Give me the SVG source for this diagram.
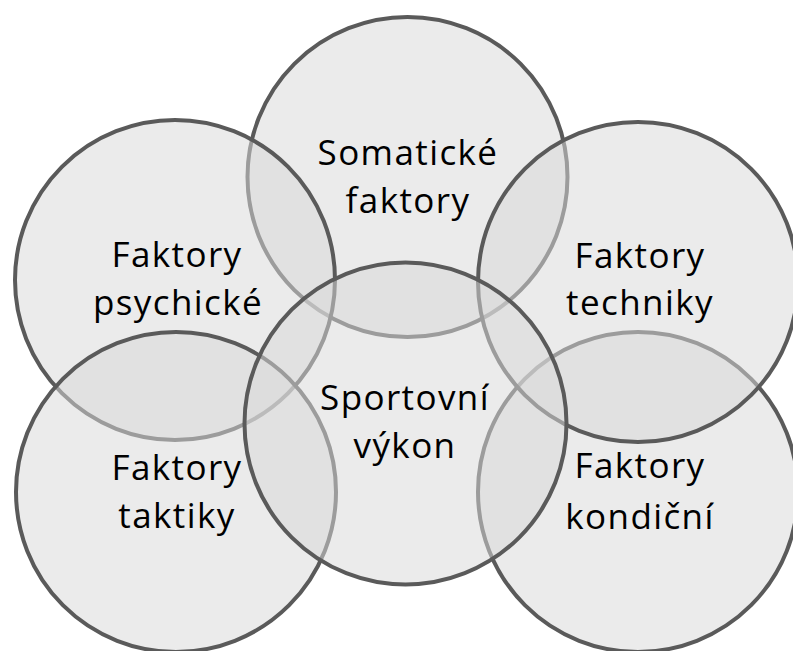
<svg xmlns="http://www.w3.org/2000/svg" width="793" height="651" viewBox="0 0 793 651">
<style>
.c{fill:#d9d9d9;fill-opacity:0.52;stroke:#5a5a5a;stroke-width:4}
.t{font-family:"Open Sans","Noto Sans","Liberation Sans",sans-serif;font-size:35px;letter-spacing:1.4px;fill:#000;text-anchor:middle}
</style>
<rect width="793" height="651" fill="#fff"/>
<g id="somaticke">
<circle class="c" cx="407.5" cy="177" r="160"/>
<text class="t" x="408" y="165">Somatické</text>
<text class="t" x="408" y="213">faktory</text>
</g>
<g id="kondicni">
<circle class="c" cx="638" cy="492" r="160"/>
<text class="t" x="640" y="478">Faktory</text>
<text class="t" x="640" y="529">kondiční</text>
</g>
<g id="techniky">
<circle class="c" cx="638" cy="282" r="160"/>
<text class="t" x="640" y="268">Faktory</text>
<text class="t" x="640" y="315">techniky</text>
</g>
<g id="psychicke">
<circle class="c" cx="175" cy="280" r="160"/>
<text class="t" x="177" y="267">Faktory</text>
<text class="t" x="178" y="315">psychické</text>
</g>
<g id="taktiky">
<circle class="c" cx="176" cy="492" r="160"/>
<text class="t" x="177" y="480">Faktory</text>
<text class="t" x="177" y="528">taktiky</text>
</g>
<g id="sportovni-vykon">
<circle class="c" cx="405.5" cy="423.5" r="161"/>
<text class="t" x="405" y="410">Sportovní</text>
<text class="t" x="405" y="458">výkon</text>
</g>
<g id="connectors"></g>
</svg>
